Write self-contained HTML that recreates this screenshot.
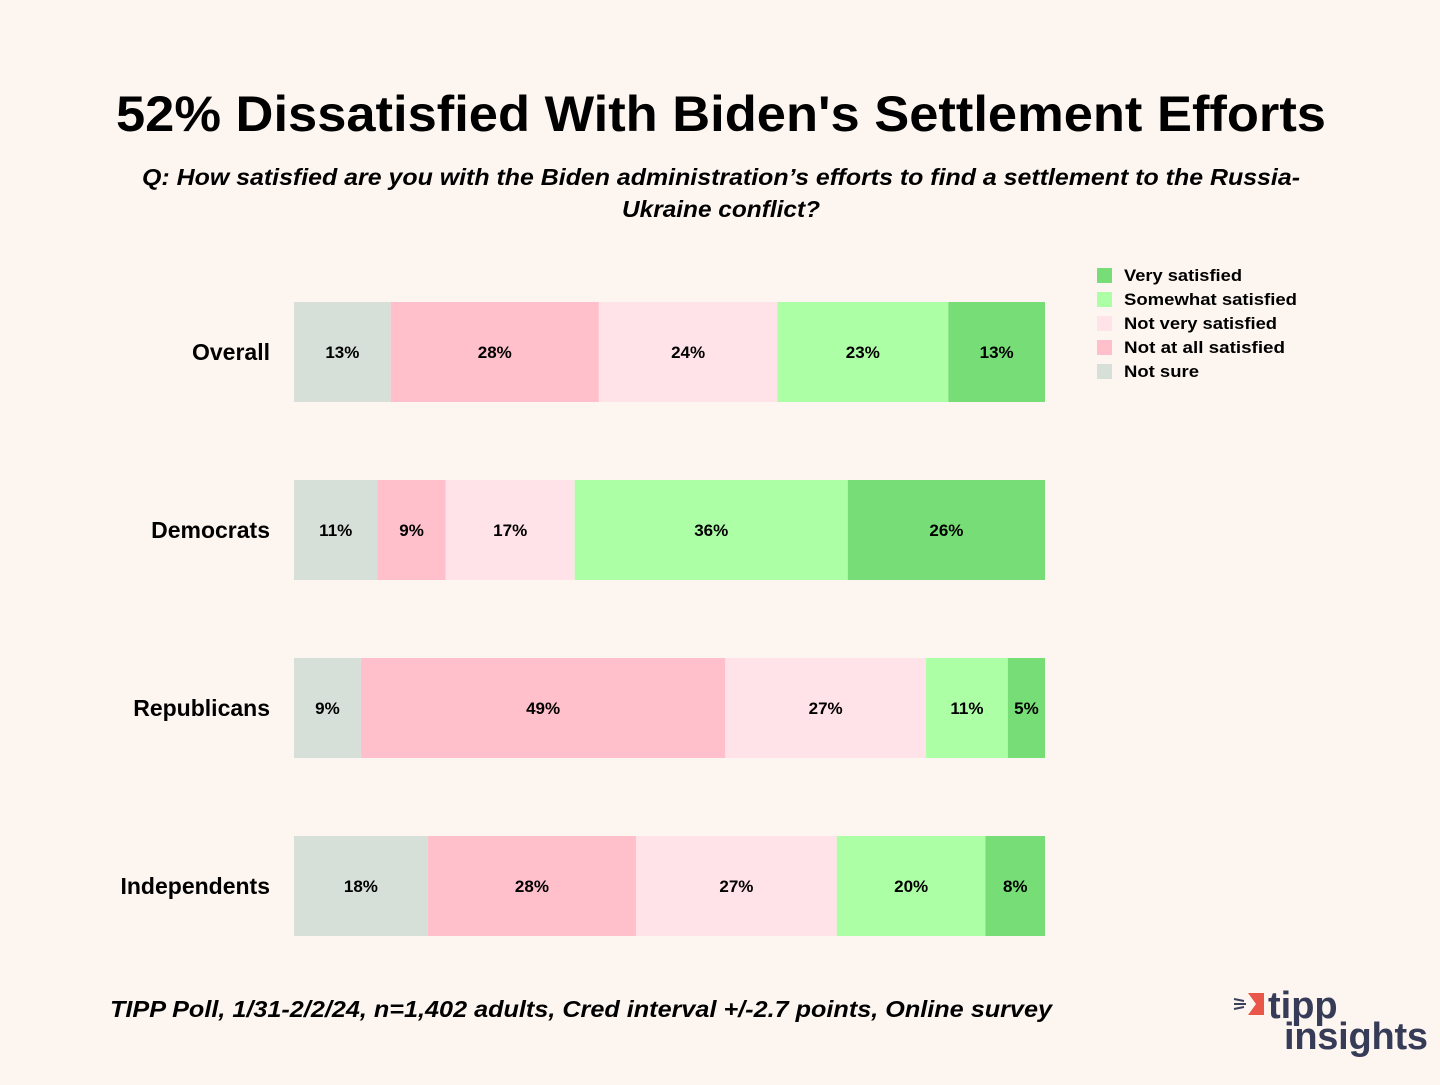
<!DOCTYPE html>
<html><head><meta charset="utf-8">
<style>
html,body{margin:0;padding:0;background:#fdf6f0;}
body{width:1440px;height:1080px;overflow:hidden;font-family:"Liberation Sans",sans-serif;}
svg text{font-family:"Liberation Sans","DejaVu Sans",sans-serif;}
</style></head>
<body>
<svg id="chart" width="1440" height="1080" xmlns="http://www.w3.org/2000/svg">
<rect width="1440" height="1080" fill="#fdf6f0"/>
<text x="116" y="131" font-size="50" font-weight="bold" fill="#000" textLength="1210" lengthAdjust="spacingAndGlyphs">52% Dissatisfied With Biden's Settlement Efforts</text>
<text x="142" y="185" font-size="23" font-style="italic" font-weight="bold" fill="#000" textLength="1158" lengthAdjust="spacingAndGlyphs">Q:  How satisfied are you with the Biden administration’s efforts to find a settlement to the Russia-</text>
<text x="622" y="217" font-size="23" font-style="italic" font-weight="bold" fill="#000" textLength="198" lengthAdjust="spacingAndGlyphs">Ukraine conflict?</text>
<g id="bars"></g>
<g id="legend"></g>
<text x="110" y="1017" font-size="23" font-style="italic" font-weight="bold" fill="#000" textLength="942" lengthAdjust="spacingAndGlyphs">TIPP Poll, 1/31-2/2/24, n=1,402 adults, Cred interval +/-2.7 points, Online survey</text>
<g>
<polygon points="1248,993 1264,993 1264,1015 1248,1015 1256,1004" fill="#e8574a"/>
<line x1="1234" y1="999" x2="1244" y2="1001" stroke="#3a3f5c" stroke-width="2"/>
<line x1="1234" y1="1004" x2="1246" y2="1004" stroke="#3a3f5c" stroke-width="2"/>
<line x1="1234" y1="1009" x2="1244" y2="1007" stroke="#3a3f5c" stroke-width="2"/>
<text x="1268" y="1018" font-size="38" font-weight="bold" fill="#363b57">tipp</text>
<text x="1284" y="1049" font-size="38" font-weight="bold" fill="#363b57" textLength="144">insights</text>
</g>
</svg>
<script>
const groups=["Overall","Democrats","Republicans","Independents"];
const notSure=[13,11,9,18];
const notAtAll=[28,9,49,28];
const notVery=[24,17,27,27];
const somewhat=[23,36,11,20];
const very=[13,26,5,8];
const seriesNames=["Not sure","Not at all satisfied","Not very satisfied","Somewhat satisfied","Very satisfied"];
const seriesColors=["#d6e0d9","#ffc0cc","#ffe3e8","#adffa6","#77dd77"];
const series=[notSure,notAtAll,notVery,somewhat,very];
const NS="http://www.w3.org/2000/svg";
const x0=294,x1=1045,barH=100,top0=302,step=178;
const bars=document.getElementById('bars');
function mk(tag,attrs,parent){const e=document.createElementNS(NS,tag);for(const k in attrs)e.setAttribute(k,attrs[k]);parent.appendChild(e);return e;}
groups.forEach((g,i)=>{
  const y=top0+i*step;
  const tot=series.reduce((s,a)=>s+a[i],0);
  const lab=mk('text',{x:270,y:y+barH/2+8,'text-anchor':'end','font-size':23,'font-weight':'bold',fill:'#000'},bars);
  lab.textContent=g;
  
  
  let cum=0;
  series.forEach((arr,s)=>{
    const xa=x0+(x1-x0)*cum/tot, xb=x0+(x1-x0)*(cum+arr[i])/tot;
    cum+=arr[i];
    const r=mk('rect',{x:xa,y:y,width:xb-xa,height:barH,fill:seriesColors[s]},bars);
    
    
    const t=mk('text',{x:(xa+xb)/2,y:y+barH/2+6,'text-anchor':'middle','font-size':17,'font-weight':'bold',fill:'#000'},bars);
    t.textContent=arr[i]+'%';
    
    
  });
});
const leg=document.getElementById('legend');
const legW={4:118,3:173,2:153,1:161,0:75};
for(let k=0;k<5;k++){
  const s=4-k, y=275+k*24;
  const r=mk('rect',{x:1097,y:y-7,width:15,height:15,fill:seriesColors[s]},leg);
  
  
  const t=mk('text',{x:1124,y:y+6,'font-size':17,'font-weight':'bold',fill:'#000',textLength:legW[s],lengthAdjust:'spacingAndGlyphs'},leg);
  t.textContent=seriesNames[s];
  
  
}
</script>
</body></html>
